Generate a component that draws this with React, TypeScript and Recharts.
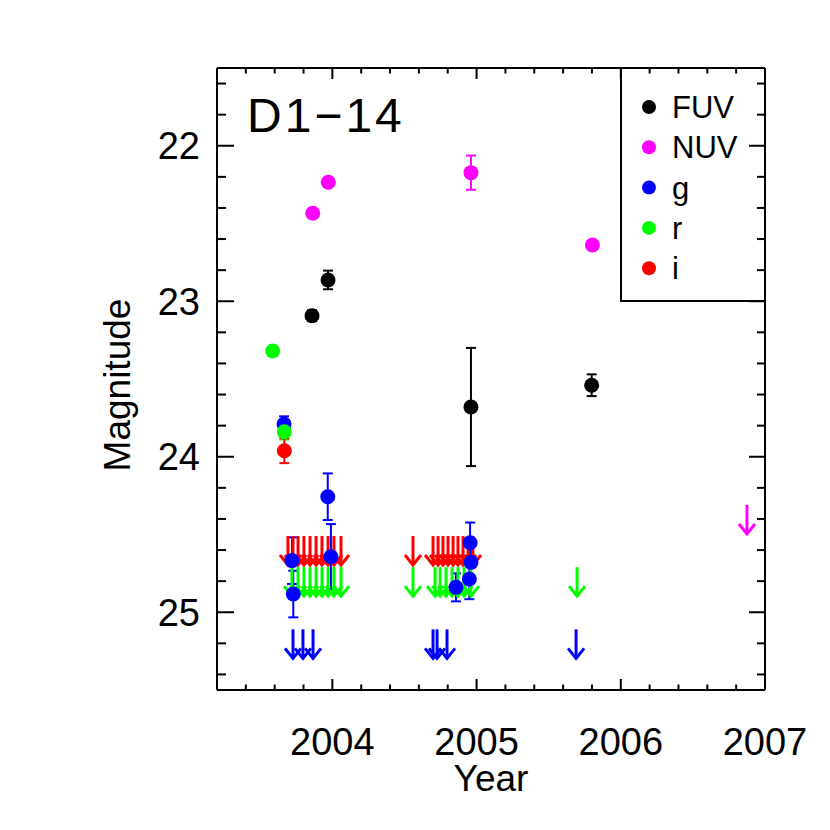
import React from 'react';
import { ScatterChart, Scatter, XAxis, YAxis, ErrorBar, Customized } from 'recharts';

const FONT = '"Liberation Sans", Arial, Helvetica, sans-serif';

const bandNames = ['FUV', 'NUV', 'g', 'r', 'i'];
const bandColors = ['#000000', '#ff00ff', '#0000ff', '#00ff00', '#ff0000'];
const titleText = 'D1\u221214';

// detections
const fuvYear = [2003.859, 2003.97, 2004.961, 2005.798];
const fuvMag = [23.093, 22.863, 23.68, 23.54];
const fuvErr = [0.035, 0.06, 0.38, 0.07];

const nuvYear = [2003.864, 2003.972, 2004.961, 2005.803];
const nuvMag = [22.434, 22.235, 22.173, 22.638];
const nuvErr = [0.02, 0.02, 0.11, 0.02];

const gYear = [2003.665, 2003.72, 2003.729, 2003.968, 2003.99, 2004.857, 2004.95, 2004.955, 2004.961];
const gMag = [23.79, 24.668, 24.883, 24.257, 24.643, 24.84, 24.786, 24.553, 24.679];
const gErr = [0.05, 0.15, 0.15, 0.15, 0.21, 0.09, 0.13, 0.13, 0.12];

const rYear = [2003.586, 2003.667];
const rMag = [23.32, 23.839];
const rErr = [0.03, 0.05];

const iYear = [2003.667];
const iMag = [23.961];
const iErr = [0.08];

// upper limits
const iLimYear = [2003.692, 2003.727, 2003.762, 2003.803, 2003.845, 2003.887, 2003.928, 2003.97, 2004.011, 2004.06,
  2004.559, 2004.698, 2004.733, 2004.767, 2004.802, 2004.837, 2004.871, 2004.906, 2004.941, 2004.975];
const iLimMag = 24.51;
const rLimYear = [2003.72, 2003.762, 2003.803, 2003.845, 2003.887, 2003.928, 2003.97, 2004.011, 2004.06,
  2004.559, 2004.712, 2004.747, 2004.788, 2004.83, 2004.871, 2004.913, 2004.961, 2005.697];
const rLimMag = 24.71;
const gLimYear = [2003.727, 2003.796, 2003.866, 2004.698, 2004.726, 2004.795, 2005.69];
const gLimMag = 25.11;
const nuvLimYear = [2006.875];
const nuvLimMag = 24.31;

// axes
const xDomain = [2003.2, 2007];
const yDomain = [21.5, 25.5];
const xTicks = [2003.4, 2003.6, 2003.8, 2004, 2004.2, 2004.4, 2004.6, 2004.8, 2005, 2005.2, 2005.4, 2005.6, 2005.8,
  2006, 2006.2, 2006.4, 2006.6, 2006.8, 2007];
const yTicks = [21.6, 21.8, 22, 22.2, 22.4, 22.6, 22.8, 23, 23.2, 23.4, 23.6, 23.8, 24, 24.2, 24.4, 24.6, 24.8,
  25, 25.2, 25.4];
const xLabel = 'Year';
const yLabel = 'Magnitude';

const det = (xs: number[], ys: number[], es: number[]) => xs.map((x, i) => ({ x, y: ys[i], e: es[i] }));
const lim = (xs: number[], y: number) => xs.map((x) => ({ x, y }));

const isMajor = (v: number) => Math.abs(v - Math.round(v)) < 1e-6;

const BottomTick = (p: any) => {
  const v = p.payload.value;
  const m = isMajor(v);
  return (
    <g>
      <line x1={p.x} y1={p.y} x2={p.x} y2={p.y - (m ? 11 : 5.5)} stroke="#000" strokeWidth={2} />
      {m && (
        <text x={p.x} y={p.y + 65} textAnchor="middle" fontSize={38} fontFamily={FONT} fill="#000">
          {String(Math.round(v))}
        </text>
      )}
    </g>
  );
};
const TopTick = (p: any) => {
  const m = isMajor(p.payload.value);
  return <line x1={p.x} y1={p.y} x2={p.x} y2={p.y + (m ? 11 : 5.5)} stroke="#000" strokeWidth={2} />;
};
const LeftTick = (p: any) => {
  const v = p.payload.value;
  const m = isMajor(v);
  return (
    <g>
      <line x1={p.x} y1={p.y} x2={p.x + (m ? 17 : 9)} y2={p.y} stroke="#000" strokeWidth={2} />
      {m && (
        <text x={p.x - 17} y={p.y} dy="0.36em" textAnchor="end" fontSize={38} fontFamily={FONT} fill="#000">
          {String(Math.round(v))}
        </text>
      )}
    </g>
  );
};
const RightTick = (p: any) => {
  const m = isMajor(p.payload.value);
  return <line x1={p.x} y1={p.y} x2={p.x - (m ? 16 : 8)} y2={p.y} stroke="#000" strokeWidth={2} />;
};

const dotShape = (color: string) => (p: any) => <circle cx={p.cx} cy={p.cy} r={7.5} fill={color} />;
const arrowShape = (color: string) => (p: any) => (
  <g>
    <line x1={p.cx} y1={p.cy} x2={p.cx} y2={p.cy + 29} stroke={color} strokeWidth={3} />
    <polyline
      points={`${p.cx - 8},${p.cy + 19} ${p.cx},${p.cy + 29} ${p.cx + 8},${p.cy + 19}`}
      fill="none"
      stroke={color}
      strokeWidth={3}
    />
  </g>
);

const Overlay = () => (
  <g>
    <text x={239} y={124} fontSize={48} letterSpacing={3} fontFamily={FONT} fill="#000">
      {titleText}
    </text>
    <line x1={613} y1={60} x2={613} y2={294} stroke="#000" strokeWidth={2} />
    <line x1={612} y1={293} x2={757} y2={293} stroke="#000" strokeWidth={2} />
    {bandNames.map((n, i) => (
      <g key={n}>
        <circle cx={641} cy={99 + 40.3 * i} r={7} fill={bandColors[i]} />
        <text x={664} y={99 + 40.3 * i + 11} fontSize={31} fontFamily={FONT} fill="#000">
          {n}
        </text>
      </g>
    ))}
  </g>
);

const XLabelContent = (p: any) => {
  const vb = p.viewBox;
  return (
    <text x={vb.x + vb.width / 2} y={vb.y + 101} textAnchor="middle" fontSize={37} fontFamily={FONT} fill="#000">
      {xLabel}
    </text>
  );
};
const YLabelContent = (p: any) => {
  const vb = p.viewBox;
  const x = vb.x + vb.width - 87;
  const y = vb.y + vb.height / 2 + 6;
  return (
    <text x={x} y={y} transform={`rotate(-90, ${x}, ${y})`} textAnchor="middle" fontSize={37} fontFamily={FONT} fill="#000">
      {yLabel}
    </text>
  );
};

const series = [
  { data: lim(iLimYear, iLimMag), color: bandColors[4], limit: true },
  { data: lim(rLimYear, rLimMag), color: bandColors[3], limit: true },
  { data: lim(gLimYear, gLimMag), color: bandColors[2], limit: true },
  { data: lim(nuvLimYear, nuvLimMag), color: bandColors[1], limit: true },
  { data: det(fuvYear, fuvMag, fuvErr), color: bandColors[0], limit: false },
  { data: det(nuvYear, nuvMag, nuvErr), color: bandColors[1], limit: false },
  { data: det(gYear, gMag, gErr), color: bandColors[2], limit: false },
  { data: det(rYear, rMag, rErr), color: bandColors[3], limit: false },
  { data: det(iYear, iMag, iErr), color: bandColors[4], limit: false },
];

export default function App() {
  return (
    <div style={{ width: 814, height: 814, background: '#fff' }}>
      <ScatterChart width={814} height={814} margin={{ top: 50, right: 47, bottom: 32, left: 129 }}>
        <XAxis
          xAxisId="b"
          orientation="bottom"
          type="number"
          dataKey="x"
          domain={xDomain}
          allowDataOverflow
          ticks={xTicks}
          interval={0}
          tickSize={0}
          tickMargin={0}
          tickLine={false}
          tick={BottomTick}
          axisLine={{ stroke: '#000', strokeWidth: 2 }}
          height={100}
          label={{ content: XLabelContent }}
        />
        <XAxis
          xAxisId="t"
          orientation="top"
          type="number"
          dataKey="x"
          domain={xDomain}
          allowDataOverflow
          ticks={xTicks}
          interval={0}
          tickSize={0}
          tickMargin={0}
          tickLine={false}
          tick={TopTick}
          axisLine={{ stroke: '#000', strokeWidth: 2 }}
          height={10}
        />
        <YAxis
          yAxisId="l"
          orientation="left"
          type="number"
          dataKey="y"
          domain={yDomain}
          reversed
          allowDataOverflow
          ticks={yTicks}
          interval={0}
          tickSize={0}
          tickMargin={0}
          tickLine={false}
          tick={LeftTick}
          axisLine={{ stroke: '#000', strokeWidth: 2 }}
          width={80}
          label={{ content: YLabelContent }}
        />
        <YAxis
          yAxisId="r"
          orientation="right"
          type="number"
          dataKey="y"
          domain={yDomain}
          reversed
          allowDataOverflow
          ticks={yTicks}
          interval={0}
          tickSize={0}
          tickMargin={0}
          tickLine={false}
          tick={RightTick}
          axisLine={{ stroke: '#000', strokeWidth: 2 }}
          width={10}
        />
        {series.map((s, k) => (
          <Scatter
            key={k}
            data={s.data}
            xAxisId="b"
            yAxisId="l"
            fill={s.color}
            shape={s.limit ? arrowShape(s.color) : dotShape(s.color)}
            isAnimationActive={false}
          >
            {!s.limit && (
              <ErrorBar dataKey="e" direction="y" width={5} stroke={s.color} strokeWidth={2} isAnimationActive={false} />
            )}
          </Scatter>
        ))}
        <Customized component={Overlay} />
      </ScatterChart>
    </div>
  );
}
